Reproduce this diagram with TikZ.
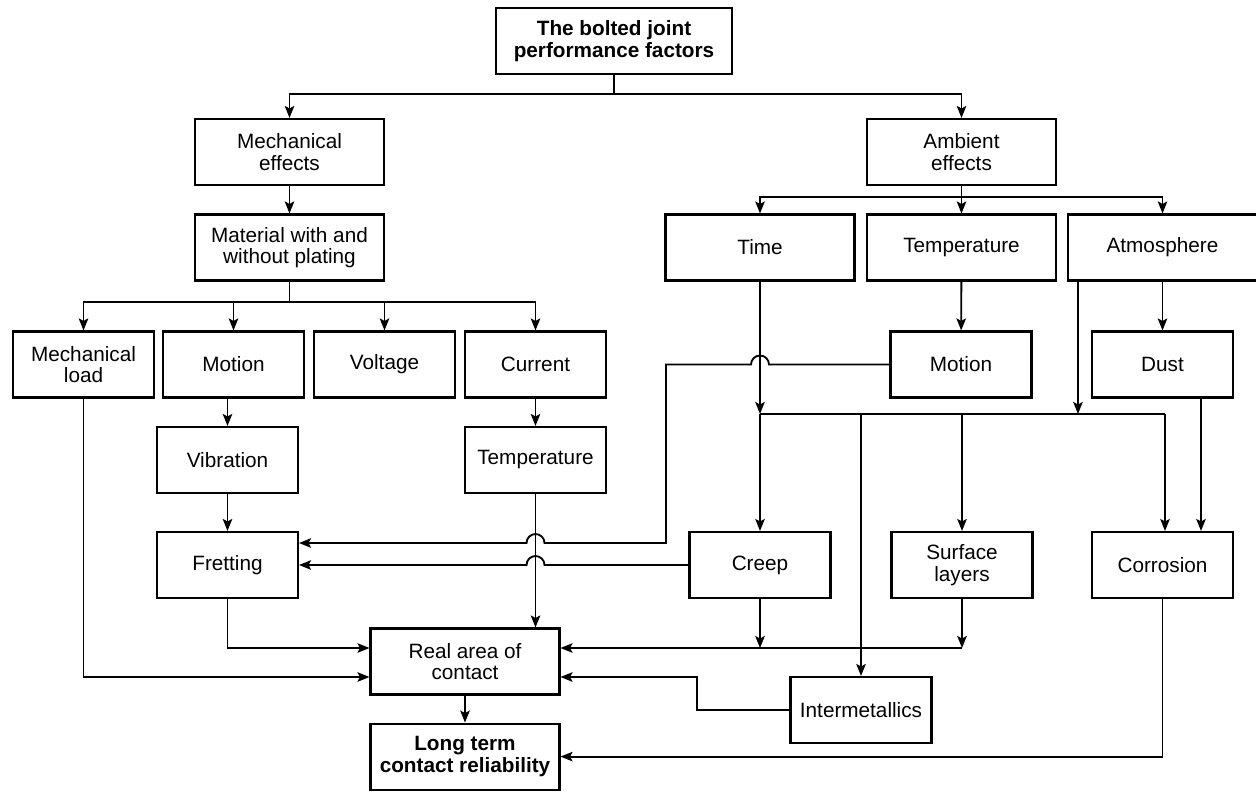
\documentclass[tikz,border=0pt]{standalone}
\usepackage{fontspec}
\setmainfont{Liberation Sans}
\usetikzlibrary{arrows.meta,positioning}

\tikzset{
  box/.style={draw, line width=1.2pt, align=center, minimum height=1.32cm,
    inner sep=2pt, font=\fontsize{11.8}{12.2}\selectfont},
  wide/.style={box, minimum width=3.78cm},
  narrow/.style={box, minimum width=2.82cm},
  link/.style={line width=1.05pt},
  arr/.style={link, -{Stealth[length=2.4mm,width=1.9mm,inset=0.5mm]}},
  hop/.style={start angle=0, end angle=180, radius=1.8mm}
}

\begin{document}
\begin{tikzpicture}[x=0.02cm,y=-0.02cm]
  \useasboundingbox (0,0) rectangle (1256,792);

  % top levels
  \node [wide, minimum width=4.72cm, font=\fontsize{11.8}{12.2}\selectfont\bfseries] (top) at (614,41) {The bolted joint\\performance factors};
  \node [wide] (mecheff) at (289.5,152) {Mechanical\\effects};
  \node [wide] (ambient) at (961.5,152) {Ambient\\effects};
  \node [wide] (material) at (289.5,247.5) {Material with and\\without plating};
  \node [wide] (time) at (760,247.5) {Time};
  \node [wide] (temp) at (961.5,247.5) {Temperature};
  \node [wide] (atmos) at (1162.5,247.5) {Atmosphere};

  % third row
  \node [narrow] (mload) at (83.5,364.5) {Mechanical\\load};
  \node [narrow] (motion) at (233.5,364.5) {Motion};
  \node [narrow] (voltage) at (384.5,364.5) {Voltage};
  \node [narrow] (current) at (535.5,364.5) {Current};
  \node [narrow] (motionb) at (961,364.5) {Motion};
  \node [narrow] (dust) at (1162.5,364.5) {Dust};

  \node [narrow] (vibration) at (227.5,460) {Vibration};
  \node [narrow] (templ) at (535.5,460) {Temperature};

  \node [narrow] (fretting) at (227.5,565) {Fretting};
  \node [narrow] (creep) at (760,565) {Creep};
  \node [narrow] (surface) at (962,565) {Surface\\layers};
  \node [narrow] (corrosion) at (1162.5,565) {Corrosion};

  \node [wide] (realarea) at (465,661.5) {Real area of\\contact};
  \node [narrow] (intermet) at (861,710) {Intermetallics};
  \node [wide, font=\fontsize{11.8}{12.2}\selectfont\bfseries] [below=0.54cm of realarea] (longterm) {Long term\\contact reliability};

  % branches from the top
  \coordinate (b0) at (614,94);
  \draw [link] (top) -- (b0);
  \draw [arr] (b0) -| (mecheff);
  \draw [arr] (b0) -| (ambient);
  \draw [arr] (mecheff) -- (material);

  \coordinate (b1) at (289.5,302);
  \draw [link] (material) -- (b1);
  \foreach \n in {mload,motion,voltage,current}
    \draw [arr] (b1) -| (\n);

  \coordinate (b2) at (961.5,197);
  \draw [link] (ambient) -- (b2);
  \foreach \n in {time,temp,atmos}
    \draw [arr] (b2) -| (\n);

  % mechanical side
  \path [arr]
    (motion.south -| vibration) edge (vibration)
    (vibration) edge (fretting)
    (current) edge (templ)
    (templ) edge (templ |- realarea.north)
    (temp) edge (motionb)
    (atmos) edge (dust)
    (realarea) edge (longterm);

  % ambient bus
  \coordinate (b3) at (760,414);
  \coordinate (b3r) at (1165,414);
  \draw [arr] (time) -- (b3);
  \draw [arr] (b3) -- (creep);
  \draw [link] (b3) -- (b3r);
  \draw [arr] (b3 -| intermet) -- (intermet);
  \draw [arr] (b3 -| surface) -- (surface);
  \draw [arr] (b3r) -- (b3r |- corrosion.north);
  \draw [arr] ([xshift=0.22cm]atmos.south west) coordinate (al) -- (al |- b3);
  \draw [arr] ([xshift=0.77cm]dust.south) -- ([xshift=0.77cm]corrosion.north);

  % lines into fretting, with hops
  \coordinate (m1) at (666,364.5);
  \coordinate (m2) at (666,543);
  \draw [arr] (motionb.west) -- ([xshift=1.8mm]time |- m1) arc [hop] -- (m1) -- (m2)
    -- ([xshift=1.8mm]templ |- m2) arc [hop] -- (fretting.east |- m2);
  \draw [arr] (creep.west) -- ([xshift=1.8mm]templ |- creep.west) arc [hop] -- (fretting.east);

  % into real area of contact
  \coordinate (ra1) at ([yshift=0.27cm]realarea.west);
  \coordinate (ra2) at ([yshift=-0.31cm]realarea.west);
  \coordinate (rb1) at ([yshift=0.27cm]realarea.east);
  \coordinate (rb2) at ([yshift=-0.31cm]realarea.east);
  \draw [arr] (fretting) |- (ra1);
  \draw [arr] (mload) |- (ra2);
  \draw [arr] (creep) -- (creep |- rb1);
  \draw [arr] (surface) -- (surface |- rb1);
  \draw [arr] (surface |- rb1) -- (rb1);
  \coordinate (ib) at (697,0);
  \draw [arr] (intermet.west) -- (ib |- intermet.west) -- (ib |- rb2) -- (rb2);
  \draw [arr] (corrosion) |- (longterm);
\end{tikzpicture}
\end{document}
